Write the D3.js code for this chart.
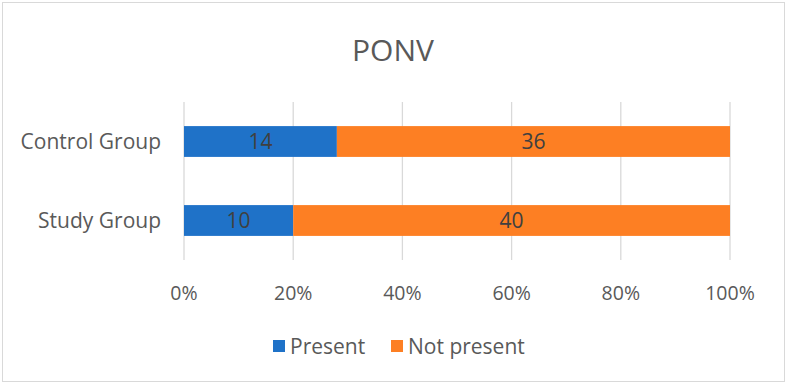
<!DOCTYPE html>
<html>
<head>
<meta charset="utf-8">
<script src="https://cdn.jsdelivr.net/npm/d3@7"></script>
<style>
  body { margin: 0; background: #fff; }
  text { font-family: "Open Sans", "Noto Sans", sans-serif; }
</style>
</head>
<body>
<svg width="790" height="387"></svg>
<script>
// data
var groups = ["Control Group", "Study Group"];
var present = [14, 10];
var notPresent = [36, 40];
var seriesNames = ["Present", "Not present"];
var ticks = [0, 0.2, 0.4, 0.6, 0.8, 1];

var colors = ["#1f72c8", "#fd7f23"];

var svg = d3.select("svg"),
    width = +svg.attr("width"),
    height = +svg.attr("height");

// outer frame
svg.append("rect")
    .attr("x", 2.5).attr("y", 2.5)
    .attr("width", 782).attr("height", 379)
    .attr("fill", "#fff")
    .attr("stroke", "#d9d9d9");

svg.append("text")
    .attr("x", 393).attr("y", 61)
    .attr("text-anchor", "middle")
    .attr("font-size", 30)
    .attr("fill", "#595959")
    .text("PONV");

var x = d3.scaleLinear().domain([0, 1]).range([184, 730]);
var y = d3.scaleBand().domain(groups).range([102, 260]).paddingInner(0.61).paddingOuter(0.305);

// gridlines
svg.append("g")
    .selectAll("line")
    .data(ticks)
    .enter()
    .append("line")
    .attr("x1", d => x(d)).attr("x2", d => x(d))
    .attr("y1", 102).attr("y2", 260)
    .attr("stroke", "#d9d9d9")
    .attr("stroke-width", 1.3);

// stacked rows
var rows = groups.map(function (g, i) {
    var total = present[i] + notPresent[i];
    return [
        { group: g, s: 0, x0: 0, x1: present[i] / total, v: present[i] },
        { group: g, s: 1, x0: present[i] / total, x1: 1, v: notPresent[i] }
    ];
});
var segs = rows.flat();

svg.append("g")
    .selectAll("rect")
    .data(segs)
    .enter()
    .append("rect")
    .attr("x", d => x(d.x0))
    .attr("width", d => x(d.x1) - x(d.x0))
    .attr("y", d => y(d.group))
    .attr("height", y.bandwidth())
    .attr("fill", d => colors[d.s]);

svg.append("g")
    .selectAll("text")
    .data(segs)
    .enter()
    .append("text")
    .attr("x", d => (x(d.x0) + x(d.x1)) / 2)
    .attr("y", d => y(d.group) + y.bandwidth() / 2)
    .attr("dy", "0.36em")
    .attr("text-anchor", "middle")
    .attr("font-size", 21)
    .attr("fill", "#404040")
    .text(d => d.v);

// category labels
svg.append("g")
    .selectAll("text")
    .data(groups)
    .enter()
    .append("text")
    .attr("x", 161)
    .attr("y", d => y(d) + y.bandwidth() / 2)
    .attr("dy", "0.36em")
    .attr("text-anchor", "end")
    .attr("font-size", 21)
    .attr("fill", "#595959")
    .text(d => d);

// x tick labels
svg.append("g")
    .selectAll("text")
    .data(ticks)
    .enter()
    .append("text")
    .attr("x", d => x(d))
    .attr("y", 300)
    .attr("text-anchor", "middle")
    .attr("font-size", 19.5)
    .attr("fill", "#595959")
    .text(d => d3.format(".0%")(d));

// legend
var legX = [273, 391];
var leg = svg.append("g")
    .selectAll("g")
    .data(seriesNames)
    .enter()
    .append("g")
    .attr("transform", (d, i) => "translate(" + legX[i] + ",340)");
leg.append("rect")
    .attr("x", 0).attr("y", 0)
    .attr("width", 12).attr("height", 12)
    .attr("fill", (d, i) => colors[i]);
leg.append("text")
    .attr("x", 17).attr("y", 6)
    .attr("dy", "0.36em")
    .attr("font-size", 21)
    .attr("fill", "#595959")
    .text(d => d);
</script>
</body>
</html>
